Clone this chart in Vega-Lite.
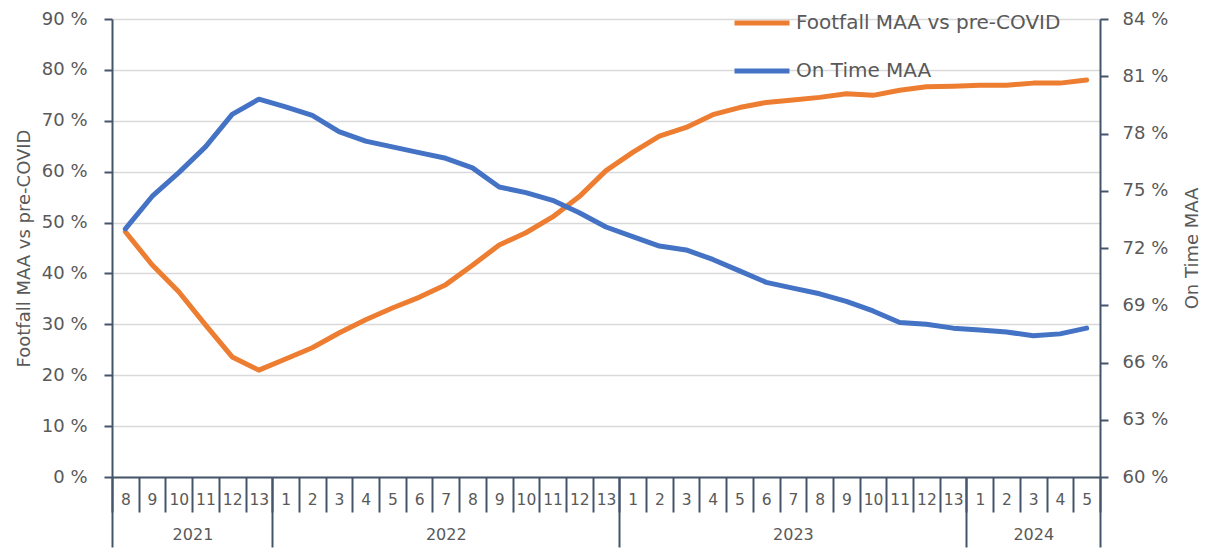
{
  "$schema": "https://vega.github.io/schema/vega-lite/v6.json",
  "width": 988,
  "height": 458,
  "autosize": "none",
  "padding": {"left": 112, "top": 19, "right": 111, "bottom": 72},
  "config": {
    "view": {"stroke": null},
    "font": "DejaVu Sans",
    "axis": {"labelFont": "DejaVu Sans", "titleFont": "DejaVu Sans", "titleFontWeight": "normal"}
  },
  "data": {
    "values": [
      {"k": "2021|8", "footfall": 48.2, "ontime": 73.0},
      {"k": "2021|9", "footfall": 41.7, "ontime": 74.7},
      {"k": "2021|10", "footfall": 36.4, "ontime": 75.95},
      {"k": "2021|11", "footfall": 29.9, "ontime": 77.3},
      {"k": "2021|12", "footfall": 23.6, "ontime": 79.0},
      {"k": "2021|13", "footfall": 21.0, "ontime": 79.8},
      {"k": "2022|1", "footfall": 23.2, "ontime": 79.4},
      {"k": "2022|2", "footfall": 25.4, "ontime": 78.95},
      {"k": "2022|3", "footfall": 28.3, "ontime": 78.1},
      {"k": "2022|4", "footfall": 30.9, "ontime": 77.6},
      {"k": "2022|5", "footfall": 33.2, "ontime": 77.3},
      {"k": "2022|6", "footfall": 35.3, "ontime": 77.0},
      {"k": "2022|7", "footfall": 37.8, "ontime": 76.7},
      {"k": "2022|8", "footfall": 41.6, "ontime": 76.2},
      {"k": "2022|9", "footfall": 45.6, "ontime": 75.2},
      {"k": "2022|10", "footfall": 48.0, "ontime": 74.9},
      {"k": "2022|11", "footfall": 51.1, "ontime": 74.5},
      {"k": "2022|12", "footfall": 55.1, "ontime": 73.85},
      {"k": "2022|13", "footfall": 60.2, "ontime": 73.1},
      {"k": "2023|1", "footfall": 63.8, "ontime": 72.6},
      {"k": "2023|2", "footfall": 67.0, "ontime": 72.1},
      {"k": "2023|3", "footfall": 68.7, "ontime": 71.9},
      {"k": "2023|4", "footfall": 71.2, "ontime": 71.4},
      {"k": "2023|5", "footfall": 72.6, "ontime": 70.8},
      {"k": "2023|6", "footfall": 73.6, "ontime": 70.2},
      {"k": "2023|7", "footfall": 74.1, "ontime": 69.9},
      {"k": "2023|8", "footfall": 74.6, "ontime": 69.6},
      {"k": "2023|9", "footfall": 75.3, "ontime": 69.2},
      {"k": "2023|10", "footfall": 75.0, "ontime": 68.7},
      {"k": "2023|11", "footfall": 76.0, "ontime": 68.1},
      {"k": "2023|12", "footfall": 76.7, "ontime": 68.0},
      {"k": "2023|13", "footfall": 76.8, "ontime": 67.8},
      {"k": "2024|1", "footfall": 77.0, "ontime": 67.7},
      {"k": "2024|2", "footfall": 77.0, "ontime": 67.6},
      {"k": "2024|3", "footfall": 77.4, "ontime": 67.4},
      {"k": "2024|4", "footfall": 77.4, "ontime": 67.5},
      {"k": "2024|5", "footfall": 78.0, "ontime": 67.8}
    ]
  },
  "layer": [
    {
      "mark": {"type": "line", "strokeWidth": 5, "strokeJoin": "round", "strokeCap": "round"},
      "encoding": {
        "x": {
          "field": "k", "type": "ordinal", "sort": null,
          "scale": {"type": "band", "paddingInner": 0, "paddingOuter": 0},
          "axis": {
            "orient": "bottom", "title": null, "grid": false,
            "tickBand": "extent", "tickSize": 35, "tickWidth": 2, "tickColor": "#44546A",
            "domainColor": "#44546A", "domainWidth": 2,
            "labelAngle": 0, "labelExpr": "split(datum.value, '|')[1]",
            "labelFontSize": 15.5, "labelColor": "#595959", "labelPadding": -20,
            "labelBaseline": "top", "labelOverlap": false, "labelFlush": false
          }
        },
        "y": {
          "field": "footfall", "type": "quantitative",
          "scale": {"domain": [0, 90], "nice": false, "zero": true},
          "axis": {
            "orient": "left", "title": "Footfall MAA vs pre-COVID",
            "values": [0, 10, 20, 30, 40, 50, 60, 70, 80, 90],
            "labelExpr": "datum.value + ' %'",
            "tickSize": 8, "tickWidth": 2, "tickColor": "#44546A",
            "domainColor": "#44546A", "domainWidth": 2,
            "grid": true, "gridColor": "#D9D9D9", "gridWidth": 1.5,
            "labelFontSize": 18, "labelColor": "#595959", "labelPadding": 17,
            "titleFontSize": 18, "titleColor": "#595959", "titlePadding": 8
          }
        },
        "color": {
          "datum": "Footfall MAA vs pre-COVID",
          "scale": {"domain": ["Footfall MAA vs pre-COVID", "On Time MAA"], "range": ["#ED7D31", "#4472C4"]},
          "legend": {
            "orient": "none", "legendX": 620, "legendY": -26, "title": null,
            "symbolType": "stroke", "symbolSize": 3025, "symbolStrokeWidth": 5,
            "labelFontSize": 20, "labelColor": "#595959", "labelFont": "DejaVu Sans", "labelLimit": 0,
            "rowPadding": 8, "padding": 0, "labelOffset": 4, "direction": "vertical"
          }
        }
      }
    },
    {
      "mark": {"type": "line", "strokeWidth": 5, "strokeJoin": "round", "strokeCap": "round"},
      "encoding": {
        "x": {
          "field": "k", "type": "ordinal", "sort": null,
          "scale": {"type": "band", "paddingInner": 0, "paddingOuter": 0},
          "axis": {
            "orient": "bottom", "title": null, "grid": false, "domain": false,
            "tickBand": "extent", "tickSize": 70, "tickWidth": 2, "tickColor": "#44546A",
            "tickOpacity": {"condition": {"test": "indexof(['2021|13','2022|13','2023|13','2024|5'], datum.value) >= 0 || datum.extra", "value": 1}, "value": 0},
            "labelAngle": 0,
            "labelExpr": "datum.value == '2021|11' ? '2021' : datum.value == '2022|7' ? '2022' : datum.value == '2023|7' ? '2023' : datum.value == '2024|3' ? '2024' : ''",
            "labelOffset": {"condition": {"test": "datum.value == '2021|11'", "value": -13}, "value": 0},
            "labelFontSize": 16, "labelColor": "#595959", "labelPadding": -21,
            "labelBaseline": "top", "labelOverlap": false, "labelFlush": false
          }
        },
        "y": {
          "field": "ontime", "type": "quantitative",
          "scale": {"domain": [60, 84], "nice": false, "zero": false},
          "axis": {
            "orient": "right", "title": "On Time MAA",
            "values": [60, 63, 66, 69, 72, 75, 78, 81, 84],
            "labelExpr": "datum.value + ' %'",
            "tickSize": 8, "tickWidth": 2, "tickColor": "#44546A",
            "domainColor": "#44546A", "domainWidth": 2, "grid": false,
            "labelFontSize": 18, "labelColor": "#595959", "labelPadding": 14,
            "titleFontSize": 18, "titleColor": "#595959", "titleAngle": 270, "titleBaseline": "top", "titlePadding": 16
          }
        },
        "color": {"datum": "On Time MAA"}
      }
    }
  ],
  "resolve": {"scale": {"y": "independent"}, "axis": {"x": "independent", "y": "independent"}}
}
